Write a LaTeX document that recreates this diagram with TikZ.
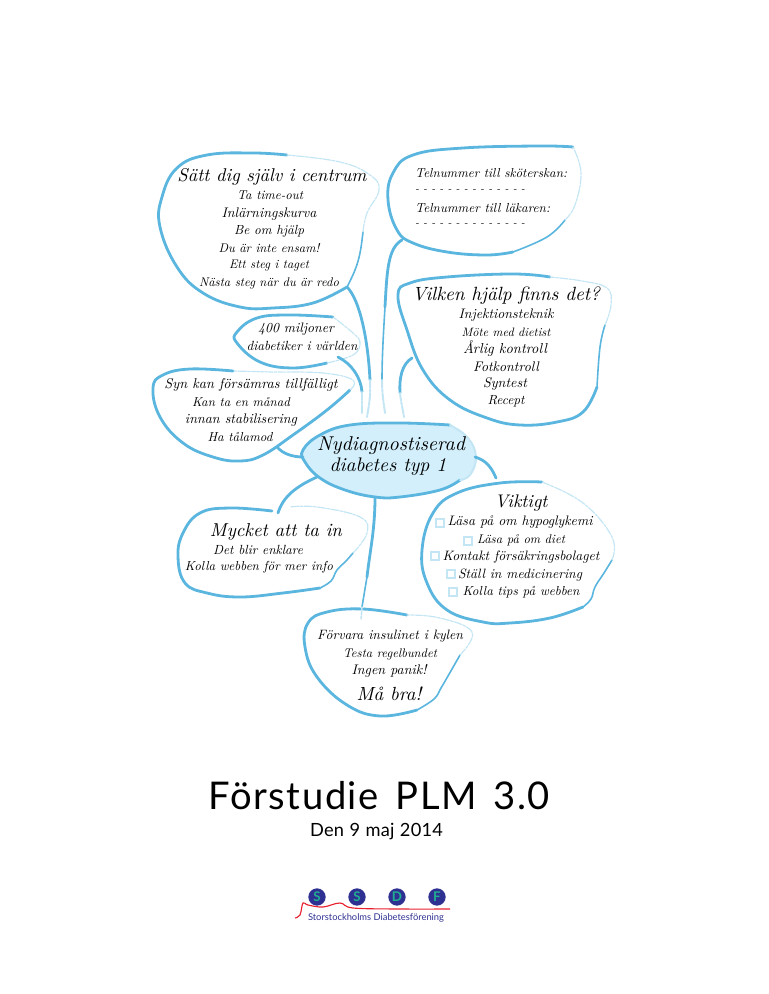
\documentclass[tikz,border=0pt]{standalone}
\usepackage{fontspec}
\usepackage{graphicx}
\newfontfamily\gillfont{Lato}
\newfontfamily\gilltitle{Lato}[LetterSpace=4,WordSpace=1.5]
\newfontfamily\gillwide{Lato}[LetterSpace=1.5,WordSpace=1.1]
\newdimen\pxu \pxu=0.75pt
\newcommand{\hw}[2]{\resizebox{#1\pxu}{!}{#2}}
\definecolor{skyline}{HTML}{5AB6DE}
\definecolor{skyfaint}{HTML}{C4E6F4}
\definecolor{skyfill}{HTML}{D2EFFB}
\definecolor{logoblue}{HTML}{2F3192}
\definecolor{logogreen}{HTML}{1FAE90}
\definecolor{logored}{HTML}{E8202E}
\tikzset{
  x=0.75pt,y=-0.75pt,
  inkline/.style={draw=skyline,line width=2.1pt,line cap=round,line join=round},
  inkmid/.style={draw=skyline,line width=1.2pt,line cap=round,line join=round},
  inkfaint/.style={draw=skyfaint,line width=0.9pt,line cap=round,line join=round,dash pattern=on 6pt off 1pt on 2pt off 1pt},
  txt/.style={inner sep=0pt,outer sep=0pt,text=black,font=\itshape},
  chk/.style={draw=skyfaint,line width=0.9pt,minimum size=6pt,inner sep=0pt,outer sep=0pt},
  logoc/.style={circle,fill=logoblue,minimum size=13pt,inner sep=0pt,text=logogreen,font=\gillfont\bfseries\fontsize{10}{10}\selectfont},
}
\begin{document}
\begin{tikzpicture}
\useasboundingbox (0,0) rectangle (768,994);

% ---- centre ellipse
\fill[skyfill] plot[smooth cycle,tension=0.7] coordinates {(303,450) (320,435) (350,426) (400,423) (450,426) (470,440) (476,457) (470,475) (440,490) (400,497) (375,497) (345,490) (320,478) (305,462)};
\draw[inkline] plot[smooth,tension=0.7] coordinates {(450,425) (400,423) (350,425) (320,435) (303,450) (305,462) (320,478) (345,490) (375,497) (400,497) (440,490) (460,480)};
\draw[inkfaint,line width=1.5pt,dash pattern=on 9pt off 0.5pt] plot[smooth,tension=0.7] coordinates {(450,425) (468,438) (476,457) (470,475) (460,480)};

% ---- blob 1: Satt dig sjalv
\draw[inkline] plot[smooth,tension=0.7] coordinates {(287,155) (253,153) (207,155) (177,168) (162,197) (160,227) (177,267) (203,293) (240,307) (273,308) (313,303) (347,287)};
\draw[inkmid] plot[smooth,tension=0.7] coordinates {(347,287) (355,270) (360,253) (363,232)};
\draw[inkfaint] plot[smooth,tension=0.7] coordinates {(363,232) (367,213) (379,190) (370,175) (340,162) (287,155)};

% ---- blob 2: Telnummer
\draw[inkline] plot[smooth,tension=0.7] coordinates {(573,147) (540,146) (463,148) (413,155) (393,173) (388,200) (397,230) (413,243) (447,252) (487,255) (513,252)};
\draw[inkmid] plot[smooth,tension=0.7] coordinates {(513,252) (547,237) (565,220)};
\draw[inkfaint] plot[smooth,tension=0.7] coordinates {(565,220) (575,205) (581,173) (573,147)};

% ---- blob 3: Vilken hjalp
\draw[inkline] plot[smooth,tension=0.7] coordinates {(550,277) (513,274) (447,277) (410,283) (398,295) (407,330) (423,370) (450,400) (487,418) (520,425) (557,422) (583,412) (597,387)};
\draw[inkmid] plot[smooth,tension=0.7] coordinates {(597,387) (600,347) (605,325)};
\draw[inkfaint] plot[smooth,tension=0.7] coordinates {(605,325) (611,305) (607,288) (582,281) (550,277)};

% ---- blob 4: 400 miljoner
\draw[inkline] plot[smooth,tension=0.7] coordinates {(333,317) (290,315) (257,318) (237,332) (237,343) (260,362) (293,368) (327,363)};
\draw[inkfaint] plot[smooth,tension=0.7] coordinates {(327,363) (353,355) (360,343) (353,333) (333,317)};

% ---- blob 5: Syn kan
\draw[inkline] plot[smooth,tension=0.7] coordinates {(233,371) (190,369) (163,375) (153,388) (160,417) (183,443) (213,457) (240,461) (263,455) (293,435) (327,410) (350,390)};
\draw[inkfaint] plot[smooth,tension=0.7] coordinates {(350,390) (353,380) (323,373) (273,372) (233,371)};

% ---- blob 6: Mycket
\draw[inkline] plot[smooth,tension=0.7] coordinates {(272,511) (230,508) (200,513) (183,533) (178,557) (185,583) (207,593) (240,597) (283,593) (320,588)};
\draw[inkmid] plot[smooth,tension=0.7] coordinates {(320,588) (331,581) (337,570) (346,561) (353,553)};
\draw[inkfaint] plot[smooth,tension=0.7] coordinates {(353,553) (367,533) (360,517) (317,507) (290,507)};

% ---- blob 7: Viktigt
\draw[inkline] plot[smooth,tension=0.7] coordinates {(542,482) (500,483) (457,493) (433,513) (422,550) (427,583) (447,610) (483,622) (510,623) (550,618) (583,607)};
\draw[inkmid] plot[smooth,tension=0.7] coordinates {(583,607) (591,599) (595,587) (604,573) (612,560)};
\draw[inkfaint] plot[smooth,tension=0.7] coordinates {(612,560) (612,537) (583,503) (542,482)};

% ---- blob 8: Forvara
\draw[inkline] plot[smooth,tension=0.7] coordinates {(407,615) (363,609) (327,612) (308,623) (305,647) (317,677) (347,705) (380,716) (417,710)};
\draw[inkmid] plot[smooth,tension=0.7] coordinates {(417,710) (434,699) (441,688) (448,676) (460,655)};
\draw[inkfaint] plot[smooth,tension=0.7] coordinates {(460,655) (472,632) (440,618) (407,615)};

% ---- connector end points
\coordinate (k1a) at (347,287); \coordinate (k1b) at (367,417);
\coordinate (k2a) at (402,240); \coordinate (k2b) at (385,413);
\coordinate (k3a) at (412,358); \coordinate (k3b) at (404,417);
\coordinate (k4a) at (338,357); \coordinate (k4b) at (362,413);
\coordinate (k5a) at (277,447); \coordinate (k5b) at (303,457);
\coordinate (k6a) at (317,477); \coordinate (k6b) at (278,513);
\coordinate (k7a) at (375,497); \coordinate (k7b) at (361,620);
\coordinate (k8a) at (475,457); \coordinate (k8b) at (496,478);

% ---- connectors
\draw[inkline] (k1a) .. controls (360,300) and (368,340) .. (370,380);
\draw[inkfaint,line width=1.5pt] (370,380) .. controls (371,395) and (369,405) .. (k1b);
\draw[inkline] (k2a) .. controls (388,248) and (387,270) .. (385,307);
\draw[inkmid] (385,307) .. controls (383,340) and (382,360) .. (382,380);
\draw[inkfaint,line width=1.5pt] (382,380) .. controls (382,395) and (384,405) .. (k2b);
\draw[inkline] (k3a) .. controls (402,364) and (399,378) .. (400,393);
\draw[inkfaint,line width=1.5pt] (400,393) .. controls (401,403) and (403,410) .. (k3b);
\draw[inkline] (k4a) .. controls (352,364) and (361,378) .. (362,392);
\draw[inkfaint,line width=1.5pt] (362,392) -- (k4b);
\draw[inkline] (k5a) .. controls (283,454) and (293,457) .. (k5b);
\draw[inkline] (k6a) .. controls (295,487) and (283,497) .. (k6b);
\draw[inkline] (k7a) .. controls (375,530) and (370,550) .. (367,577);
\draw[inkmid] (367,577) -- (362,607);
\draw[inkfaint,line width=1.2pt] (362,607) -- (k7b);
\draw[inkline] (k8a) .. controls (485,460) and (491,466) .. (k8b);

% ---- texts
\node[txt] (a0) at (272,177) {\hw{189}{Sätt dig själv i centrum}};
\node[txt] (a1) at (270,195) {\hw{66}{Ta time-out}};
\node[txt] (a2) at (269,214) {\hw{95}{Inlärningskurva}};
\node[txt] (a3) at (269,231) {\hw{70}{Be om hjälp}};
\node[txt] (a4) at (269,248) {\hw{101}{Du är inte ensam!}};
\node[txt] (a5) at (269,266) {\hw{80}{Ett steg i taget}};
\node[txt] (a6) at (269,283) {\hw{140}{Nästa steg när du är redo}};

\node[txt,anchor=west] (b0) at (415,173) {\hw{152}{Telnummer till sköterskan:}};
\node[txt,anchor=west] (b1) at (415,191) {\hw{110}{- - - - - - - - - - - - - -}};
\node[txt,anchor=west] (b2) at (415,208) {\hw{135}{Telnummer till läkaren:}};
\node[txt,anchor=west] (b3) at (415,225) {\hw{110}{- - - - - - - - - - - - - -}};

\node[txt] (c0) at (506,296) {\hw{188}{Vilken hjälp finns det?}};
\node[txt] (c1) at (506,315) {\hw{95}{Injektionsteknik}};
\node[txt] (c2) at (506,332) {\hw{89}{Möte med dietist}};
\node[txt] (c3) at (505,349) {\hw{84}{Årlig kontroll}};
\node[txt] (c4) at (506,367) {\hw{66}{Fotkontroll}};
\node[txt] (c5) at (505,384) {\hw{44}{Syntest}};
\node[txt] (c6) at (506,401) {\hw{37}{Recept}};

\node[txt] (d0) at (296,329) {\hw{76}{400 miljoner}};
\node[txt] (d1) at (302,346) {\hw{111}{diabetiker i världen}};

\node[txt] (e0) at (251,385) {\hw{173}{Syn kan försämras tillfälligt}};
\node[txt] (e1) at (241,402) {\hw{98}{Kan ta en månad}};
\node[txt] (e2) at (241,420) {\hw{112}{innan stabilisering}};
\node[txt] (e3) at (240,437) {\hw{65}{Ha tålamod}};

\node[txt] (f0) at (391,446) {\hw{148}{Nydiagnostiserad}};
\node[txt] (f1) at (388,467) {\hw{117}{diabetes typ 1}};

\node[txt] (g0) at (276,532) {\hw{132}{Mycket att ta in}};
\node[txt] (g1) at (258,550) {\hw{90}{Det blir enklare}};
\node[txt] (g2) at (259,567) {\hw{148}{Kolla webben för mer info}};

\node[txt] (h0) at (521,503) {\hw{53}{Viktigt}};
\node[txt] (h1) at (520,522) {\hw{145}{Läsa på om hypoglykemi}};
\node[txt] (h2) at (521,540) {\hw{88}{Läsa på om diet}};
\node[txt] (h3) at (521,557) {\hw{157}{Kontakt försäkringsbolaget}};
\node[txt] (h4) at (520,575) {\hw{124}{Ställ in medicinering}};
\node[txt] (h5) at (521,592) {\hw{117}{Kolla tips på webben}};
\node[chk] (x1) at (440,523) {};
\node[chk] (x2) at (468,541) {};
\node[chk] (x3) at (435,556) {};
\node[chk] (x4) at (451,574) {};
\node[chk] (x5) at (453,592) {};

\node[txt] (i0) at (390,636) {\hw{146}{Förvara insulinet i kylen}};
\node[txt] (i1) at (390,654) {\hw{94}{Testa regelbundet}};
\node[txt] (i2) at (389,671) {\hw{75}{Ingen panik!}};
\node[txt] (i3) at (389,694) {\hw{65}{Må bra!}};

% ---- title
\node[inner sep=0pt,text=black,font=\gilltitle,anchor=base] (t0) at (379.5,809) {\hw{341}{Förstudie PLM 3.0}};
\node[inner sep=0pt,text=black,font=\gillwide,anchor=base] (t1) at (376.5,836) {\hw{133}{Den 9 maj 2014}};

% ---- logo
\draw[logored,line width=0.85pt] plot[smooth,tension=0.6] coordinates {(295,918) (300,915) (303,903) (308,905) (323,907) (340,903) (353,908) (400,909) (450,909)};
\node[logoc] (l1) at (317,897) {S};
\node[logoc] (l2) at (357,897) {S};
\node[logoc] (l3) at (397,897) {D};
\node[logoc] (l4) at (437,897) {F};
\node[inner sep=0pt,text=logoblue,font=\gillfont] (l5) at (376,917.5) {\hw{136}{Storstockholms Diabetesförening}};
\end{tikzpicture}
\end{document}
